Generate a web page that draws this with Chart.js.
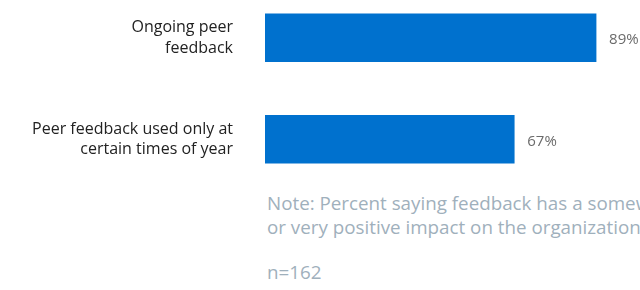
<!DOCTYPE html>
<html>
<head>
<meta charset="utf-8">
<script src="https://cdn.jsdelivr.net/npm/chart.js@4/dist/chart.umd.min.js"></script>
<style>
    html, body { margin: 0; padding: 0; background: #fff; }
    body { width: 640px; height: 290px; position: relative; overflow: hidden; font-family: 'Open Sans', sans-serif; }
    #chartBox { position: absolute; left: 0; top: -13px; width: 640px; height: 203px; }
    .note { position: absolute; left: 267px; color: #9fb0bc; font-size: 18.8px; line-height: 24px; white-space: nowrap; }
</style>
</head>
<body>
<div id="chartBox"><canvas id="chart"></canvas></div>
<div class="note" style="top: 191px;">Note: Percent saying feedback has a somewhat<br>or very positive impact on the organization.</div>
<div class="note" style="top: 260px;">n=162</div>

<script>
const categories = [
    ['Ongoing peer', 'feedback'],
    ['Peer feedback used only at', 'certain times of year']
];
const values = [89, 67];
const axisMax = 100;

// draws "89%" style labels just past the end of each bar
const valueLabels = {
    id: 'valueLabels',
    afterDatasetsDraw(chart) {
        const ctx = chart.ctx;
        const meta = chart.getDatasetMeta(0);
        ctx.save();
        ctx.font = '15px "Open Sans", sans-serif';
        ctx.fillStyle = '#6b6b6b';
        ctx.textAlign = 'left';
        ctx.textBaseline = 'middle';
        meta.data.forEach((bar, i) => {
            ctx.fillText(values[i] + '%', bar.x + 13, bar.y + 2);
        });
        ctx.restore();
    }
};

new Chart(document.getElementById('chart'), {
    type: 'bar',
    data: {
        labels: categories,
        datasets: [{
            data: values,
            backgroundColor: '#0071ce',
            barThickness: 48
        }]
    },
    options: {
        indexAxis: 'y',
        responsive: true,
        maintainAspectRatio: false,
        animation: false,
        layout: { padding: { top: 0, right: 3, bottom: 0, left: 0 } },
        plugins: {
            legend: { display: false },
            tooltip: { enabled: false }
        },
        scales: {
            x: {
                display: false,
                min: 0,
                max: axisMax
            },
            y: {
                grid: { display: false, drawTicks: false },
                border: { display: false },
                ticks: {
                    padding: 32,
                    color: '#222',
                    font: { family: '"Open Sans", sans-serif', size: 16, lineHeight: 1.28 }
                },
                afterFit(scale) {
                    scale.width = 265;
                    // tall two-line labels would otherwise shrink the plot area
                    scale.paddingTop = 0;
                    scale.paddingBottom = 0;
                }
            }
        }
    },
    plugins: [valueLabels]
});
</script>
</body>
</html>
